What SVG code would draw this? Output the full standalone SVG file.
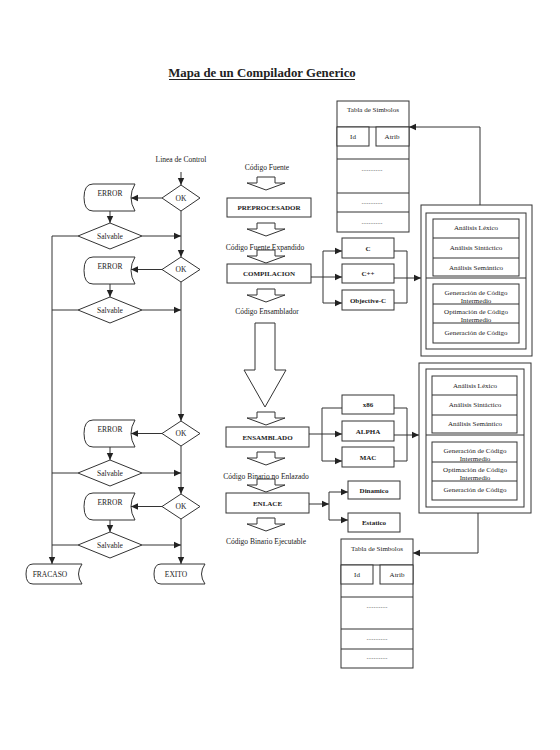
<svg xmlns="http://www.w3.org/2000/svg" width="560" height="750" viewBox="0 0 560 750">
<defs>
<marker id="ah" markerWidth="8" markerHeight="8" refX="7" refY="4" orient="auto" markerUnits="userSpaceOnUse"><path d="M0,0.8 L7,4 L0,7.2 Z" fill="#222"/></marker>
<path id="store" d="M93,0 H135 Q127,13.5 135,27 H93 Q84,27 84,13.5 Q84,0 93,0 Z"/>
<path id="sarrow" d="M257,0 H275 V6 H285 L266,13 L247,6 H257 Z"/>
</defs>
<style>
text{font-family:"Liberation Serif","Times New Roman",serif;fill:#222;text-anchor:middle}
.t{font-size:7.5px}
.s{font-size:7px}
.b{font-size:7px;font-weight:bold}
.shape{fill:#fff;stroke:#333;stroke-width:1}
.ln{fill:none;stroke:#333;stroke-width:1}
.ar{fill:none;stroke:#333;stroke-width:1;marker-end:url(#ah)}
.dots{font-size:7px;fill:#555}
</style>
<rect width="560" height="750" fill="#fff"/>

<g id="title">
<text x="262" y="77" style="font-size:12.8px;font-weight:bold">Mapa de un Compilador Generico</text>
<line x1="169" y1="79.5" x2="355" y2="79.5" stroke="#222" stroke-width="1"/>
</g>

<g id="connectors">
<path class="ar" d="M181,172 V185"/>
<path class="ar" d="M181,211 V257"/>
<path class="ar" d="M181,282 V421"/>
<path class="ar" d="M181,446 V494"/>
<path class="ar" d="M181,519 V564"/>
<path class="ar" d="M162,198 H131"/>
<path class="ar" d="M162,269.5 H131"/>
<path class="ar" d="M162,433.5 H131"/>
<path class="ar" d="M162,506.5 H131"/>
<path class="ar" d="M110,211 V223"/>
<path class="ar" d="M110,284 V297"/>
<path class="ar" d="M110,447 V460"/>
<path class="ar" d="M110,520 V532"/>
<path class="ar" d="M142,236 H181"/>
<path class="ar" d="M142,310 H181"/>
<path class="ar" d="M142,473 H181"/>
<path class="ar" d="M142,545 H181"/>
<path class="ar" d="M78,236 H52 V564"/>
<path class="ln" d="M78,310 H52"/>
<path class="ln" d="M78,473 H52"/>
<path class="ln" d="M78,545 H52"/>

<path class="ar" d="M311,277 H342"/>
<path class="ln" d="M323,251 V303"/>
<path class="ar" d="M323,251 H342"/>
<path class="ar" d="M323,303 H342"/>
<path class="ln" d="M394,251 H407 V303 H394"/>
<path class="ar" d="M394,278 H421"/>

<path class="ar" d="M309,434 H342"/>
<path class="ln" d="M322,408 V461"/>
<path class="ln" d="M322,408 H342"/>
<path class="ar" d="M322,461 H342"/>
<path class="ln" d="M394,408 H407 V461 H394"/>
<path class="ar" d="M394,435 H419"/>

<path class="ar" d="M309,504 H329"/>
<path class="ln" d="M329,492 V520"/>
<path class="ar" d="M329,492 H348"/>
<path class="ar" d="M329,520 H348"/>

<path class="ar" d="M480,205 V127 H409"/>
<path class="ar" d="M478,513 V553 H413"/>
</g>

<g id="linea-control"><text class="t" x="181" y="162">Linea de Control</text></g>

<g id="ok1"><polygon class="shape" points="181,185 200,198 181,211 162,198"/><text class="t" x="181" y="200.5">OK</text></g>
<g id="ok2"><polygon class="shape" points="181,257 200,269.5 181,282 162,269.5"/><text class="t" x="181" y="272">OK</text></g>
<g id="ok3"><polygon class="shape" points="181,421 200,433.5 181,446 162,433.5"/><text class="t" x="181" y="436">OK</text></g>
<g id="ok4"><polygon class="shape" points="181,494 200,506.5 181,519 162,506.5"/><text class="t" x="181" y="509">OK</text></g>

<g id="error1"><use href="#store" class="shape" transform="translate(0,184)"/><text class="t" x="110" y="195.5">ERROR</text></g>
<g id="error2"><use href="#store" class="shape" transform="translate(0,257)"/><text class="t" x="110" y="268.5">ERROR</text></g>
<g id="error3"><use href="#store" class="shape" transform="translate(0,420)"/><text class="t" x="110" y="431.5">ERROR</text></g>
<g id="error4"><use href="#store" class="shape" transform="translate(0,493)"/><text class="t" x="110" y="504.5">ERROR</text></g>

<g id="salvable1"><polygon class="shape" points="110,223 142,236 110,249 78,236"/><text class="t" x="110" y="238.5">Salvable</text></g>
<g id="salvable2"><polygon class="shape" points="110,297 142,310 110,323 78,310"/><text class="t" x="110" y="312.5">Salvable</text></g>
<g id="salvable3"><polygon class="shape" points="110,460 142,473 110,486 78,473"/><text class="t" x="110" y="475.5">Salvable</text></g>
<g id="salvable4"><polygon class="shape" points="110,532 142,545 110,558 78,545"/><text class="t" x="110" y="547.5">Salvable</text></g>

<g id="fracaso"><path class="shape" d="M33,564 H82 Q75,574 82,584 H33 Q26,584 26,574 Q26,564 33,564 Z"/><text class="t" x="50" y="576.5">FRACASO</text></g>
<g id="exito"><path class="shape" d="M161,564 H205 Q198,574 205,584 H161 Q154,584 154,574 Q154,564 161,564 Z"/><text class="t" x="176" y="576.5">EXITO</text></g>

<g id="codigo-fuente"><text class="t" x="267" y="170">Código Fuente</text></g>
<g id="flecha1"><use href="#sarrow" class="shape" transform="translate(0,177)"/></g>
<g id="preprocesador"><rect class="shape" x="227" y="198" width="84" height="19"/><text class="b" x="269" y="210">PREPROCESADOR</text></g>
<g id="flecha2"><use href="#sarrow" class="shape" transform="translate(0,223)"/></g>
<g id="codigo-expandido"><text class="t" x="265" y="249.5">Código Fuente Expandido</text></g>
<g id="flecha3"><use href="#sarrow" class="shape" transform="translate(0,250)"/></g>
<g id="compilacion"><rect class="shape" x="227" y="264" width="84" height="19"/><text class="b" x="269" y="276">COMPILACION</text></g>
<g id="flecha4"><use href="#sarrow" class="shape" transform="translate(0,289)"/></g>
<g id="codigo-ensamblador"><text class="t" x="267" y="313.5">Código Ensamblador</text></g>
<g id="flecha-grande"><path class="shape" d="M255,323 H275 V370 H286 L265,407 L244,370 H255 Z"/></g>
<g id="flecha5"><use href="#sarrow" class="shape" transform="translate(0,412)"/></g>
<g id="ensamblado"><rect class="shape" x="226" y="427" width="83" height="20"/><text class="b" x="267.5" y="439.5">ENSAMBLADO</text></g>
<g id="flecha6"><use href="#sarrow" class="shape" transform="translate(0,452)"/></g>
<g id="codigo-no-enlazado"><text class="t" x="266" y="478.5">Código Binario no Enlazado</text></g>
<g id="flecha7"><use href="#sarrow" class="shape" transform="translate(0,479)"/></g>
<g id="enlace"><rect class="shape" x="226" y="493" width="83" height="20"/><text class="b" x="267.5" y="505.5">ENLACE</text></g>
<g id="flecha8"><use href="#sarrow" class="shape" transform="translate(0,518)"/></g>
<g id="codigo-ejecutable"><text class="t" x="266" y="543.5">Código Binario Ejecutable</text></g>

<g id="c"><rect class="shape" x="342" y="238" width="52" height="20"/><text class="b" x="368" y="250.5">C</text></g>
<g id="cpp"><rect class="shape" x="342" y="264" width="52" height="19"/><text class="b" x="368" y="276">C++</text></g>
<g id="objc"><rect class="shape" x="342" y="290" width="52" height="20"/><text class="b" x="368" y="302.5">Objective-C</text></g>

<g id="x86"><rect class="shape" x="342" y="395" width="52" height="19"/><text class="b" x="368" y="407">x86</text></g>
<g id="alpha"><rect class="shape" x="342" y="421" width="52" height="20"/><text class="b" x="368" y="433.5">ALPHA</text></g>
<g id="mac"><rect class="shape" x="342" y="447" width="52" height="20"/><text class="b" x="368" y="459.5">MAC</text></g>

<g id="dinamico"><rect class="shape" x="348" y="481" width="52" height="18"/><text class="b" x="374" y="492.5">Dinamico</text></g>
<g id="estatico"><rect class="shape" x="348" y="513" width="52" height="19"/><text class="b" x="374" y="525">Estatico</text></g>

<g id="tabla-simbolos-1">
<rect class="shape" x="337" y="101" width="72" height="131"/>
<text class="s" x="373" y="111.5">Tabla de Simbolos</text>
<line class="ln" x1="337" y1="127" x2="409" y2="127"/>
<rect class="shape" x="337" y="127" width="32" height="19"/>
<rect class="shape" x="376" y="127" width="33" height="19"/>
<text class="s" x="353" y="139">Id</text>
<text class="s" x="392" y="139">Atrib</text>
<line class="ln" x1="337" y1="159" x2="409" y2="159"/>
<line class="ln" x1="337" y1="193" x2="409" y2="193"/>
<line class="ln" x1="337" y1="212" x2="409" y2="212"/>
<text class="dots" x="372" y="171">............</text>
<text class="dots" x="372" y="204">............</text>
<text class="dots" x="372" y="224">............</text>
</g>

<g id="tabla-simbolos-2">
<rect class="shape" x="341" y="539" width="72" height="129"/>
<text class="s" x="377" y="550.5">Tabla de Simbolos</text>
<line class="ln" x1="341" y1="565" x2="413" y2="565"/>
<rect class="shape" x="341" y="565" width="32" height="19"/>
<rect class="shape" x="380" y="565" width="33" height="19"/>
<text class="s" x="357" y="577">Id</text>
<text class="s" x="397" y="577">Atrib</text>
<line class="ln" x1="341" y1="597" x2="413" y2="597"/>
<line class="ln" x1="341" y1="629" x2="413" y2="629"/>
<line class="ln" x1="341" y1="649" x2="413" y2="649"/>
<text class="dots" x="377" y="608">............</text>
<text class="dots" x="377" y="640">............</text>
<text class="dots" x="377" y="659">............</text>
</g>

<g id="fases-1">
<rect class="shape" x="421" y="205" width="111" height="151"/>
<rect class="shape" x="426" y="213" width="100" height="136"/>
<line class="ln" x1="426" y1="278" x2="526" y2="278"/>
<rect class="shape" x="433" y="219" width="86" height="57"/>
<line class="ln" x1="433" y1="238" x2="519" y2="238"/>
<line class="ln" x1="433" y1="258" x2="519" y2="258"/>
<text class="s" x="476" y="230">Análisis Léxico</text>
<text class="s" x="476" y="250">Análisis Sintáctico</text>
<text class="s" x="476" y="269.5">Análisis Semántico</text>
<rect class="shape" x="433" y="284" width="86" height="59"/>
<line class="ln" x1="433" y1="304" x2="519" y2="304"/>
<line class="ln" x1="433" y1="323" x2="519" y2="323"/>
<text class="s" x="476" y="295">Generación de Código</text>
<text class="s" x="476" y="303">Intermedio</text>
<text class="s" x="476" y="314">Optimación de Código</text>
<text class="s" x="476" y="322">Intermedio</text>
<text class="s" x="476" y="335">Generación de Código</text>
</g>

<g id="fases-2">
<rect class="shape" x="419" y="363" width="112" height="150"/>
<rect class="shape" x="426" y="369" width="98" height="138"/>
<line class="ln" x1="426" y1="435" x2="524" y2="435"/>
<rect class="shape" x="432" y="376" width="85" height="57"/>
<line class="ln" x1="432" y1="395" x2="517" y2="395"/>
<line class="ln" x1="432" y1="415" x2="517" y2="415"/>
<text class="s" x="475" y="387.5">Análisis Léxico</text>
<text class="s" x="475" y="406.5">Análisis Sintáctico</text>
<text class="s" x="475" y="426">Análisis Semántico</text>
<rect class="shape" x="432" y="442" width="85" height="58"/>
<line class="ln" x1="432" y1="462" x2="517" y2="462"/>
<line class="ln" x1="432" y1="481" x2="517" y2="481"/>
<text class="s" x="475" y="453">Generación de Código</text>
<text class="s" x="475" y="461">Intermedio</text>
<text class="s" x="475" y="472">Optimación de Código</text>
<text class="s" x="475" y="480">Intermedio</text>
<text class="s" x="475" y="491.5">Generación de Código</text>
</g>
</svg>
